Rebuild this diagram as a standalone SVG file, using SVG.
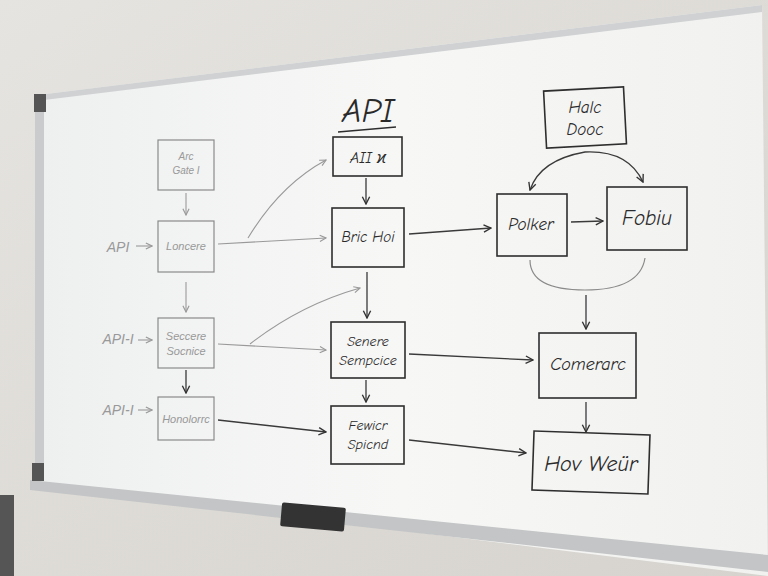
<svg xmlns="http://www.w3.org/2000/svg" width="768" height="576" viewBox="0 0 768 576">
<defs>
<linearGradient id="wall" x1="0" y1="0" x2="1" y2="1"><stop offset="0" stop-color="#e6e4e0"/><stop offset="1" stop-color="#d6d3ce"/></linearGradient>
<linearGradient id="board" x1="0" y1="0" x2="1" y2="0"><stop offset="0" stop-color="#eef0f0"/><stop offset="0.5" stop-color="#f7f7f6"/><stop offset="1" stop-color="#f1f1f0"/></linearGradient>
<marker id="ah" viewBox="0 0 10 10" refX="9" refY="5" markerWidth="7" markerHeight="7" orient="auto-start-reverse"><path d="M1,1 L9,5 L1,9" fill="none" stroke="#333" stroke-width="1.5"/></marker>
<marker id="ahf" viewBox="0 0 10 10" refX="9" refY="5" markerWidth="7" markerHeight="7" orient="auto"><path d="M1,1 L9,5 L1,9" fill="none" stroke="#999" stroke-width="1.5"/></marker>
</defs>
<style>
.b{fill:none;stroke:#2e2e2e;stroke-width:1.6}
.f{fill:none;stroke:#8a8a8a;stroke-width:1.2}
.c{fill:none;stroke:#3a3a3a;stroke-width:1.3;marker-end:url(#ah)}
.cf{fill:none;stroke:#999;stroke-width:1.1;marker-end:url(#ahf)}
.t{font-family:"Comic Neue","Liberation Sans",sans-serif;font-style:italic;fill:#2a2a2a;text-anchor:middle}
.tf{font-family:"Liberation Sans",sans-serif;font-style:italic;fill:#999;text-anchor:middle}
</style>
<rect width="768" height="576" fill="url(#wall)"/>
<polygon points="38,95 762,5 768,576 35,485" fill="url(#board)"/>
<polygon points="38,95 762,5 762,12 44,100" fill="#cfd1d2"/>
<polygon points="35,95 44,95 44,480 35,482" fill="#c9cbcc"/>
<polygon points="30,480 768,555 768,572 30,490" fill="#c3c5c6"/>
<rect x="34" y="94" width="12" height="18" fill="#555"/>
<rect x="32" y="463" width="12" height="18" fill="#555"/>
<rect x="281" y="505" width="64" height="24" rx="2" fill="#333" transform="rotate(5 313 517)"/>
<rect x="0" y="495" width="14" height="81" fill="#555"/>

<g id="title"><text class="t" x="368" y="122" font-size="34" font-style="normal">API</text><path class="b" d="M338,132 L396,127"/></g>

<g id="labels">
<text class="tf" x="118" y="252" font-size="14">API</text>
<text class="tf" x="118" y="344" font-size="14">API-I</text>
<text class="tf" x="118" y="415" font-size="14">API-I</text>
</g>

<g id="n-arc"><rect class="f" x="158" y="140" width="56" height="50"/><text class="tf" x="186" y="160" font-size="10">Arc</text><text class="tf" x="186" y="174" font-size="10">Gate I</text></g>
<g id="n-lon"><rect class="f" x="158" y="221" width="56" height="51"/><text class="tf" x="186" y="250" font-size="11" fill="#777">Loncere</text></g>
<g id="n-sec"><rect class="f" x="158" y="318" width="56" height="50"/><text class="tf" x="186" y="340" font-size="11">Seccere</text><text class="tf" x="186" y="355" font-size="11">Socnice</text></g>
<g id="n-hon"><rect class="f" x="158" y="397" width="56" height="43" stroke="#666"/><text class="tf" x="186" y="423" font-size="11" fill="#555">Honolorrc</text></g>

<g id="n-api"><rect class="b" x="333" y="137" width="69" height="39"/><text class="t" x="368" y="163" font-size="16">AII ϰ</text></g>
<g id="n-bric"><rect class="b" x="332" y="208" width="72" height="59"/><text class="t" x="368" y="242" font-size="15">Bric Hoi</text></g>
<g id="n-sen"><rect class="b" x="331" y="322" width="74" height="56"/><text class="t" x="368" y="346" font-size="14">Senere</text><text class="t" x="368" y="365" font-size="14">Sempcice</text></g>
<g id="n-few"><rect class="b" x="331" y="406" width="73" height="58"/><text class="t" x="368" y="430" font-size="14">Fewicr</text><text class="t" x="368" y="449" font-size="14">Spicnd</text></g>
<g id="n-halc"><rect class="b" x="545" y="89" width="80" height="57" transform="rotate(-3 585 117)"/><text class="t" x="585" y="113" font-size="17">Halc</text><text class="t" x="585" y="135" font-size="17">Dooc</text></g>
<g id="n-pol"><rect class="b" x="497" y="194" width="70" height="62"/><text class="t" x="531" y="230" font-size="17">Polker</text></g>
<g id="n-fob"><rect class="b" x="607" y="187" width="80" height="63"/><text class="t" x="647" y="225" font-size="21">Fobiu</text></g>
<g id="n-com"><rect class="b" x="539" y="333" width="97" height="65"/><text class="t" x="588" y="370" font-size="18">Comerarc</text></g>
<g id="n-hov"><rect class="b" x="533" y="433" width="116" height="59" transform="rotate(2 591 462)"/><text class="t" x="591" y="471" font-size="22">Hov Weür</text></g>

<g id="connectors">
<path class="cf" d="M186,193 L186,215"/>
<path class="cf" d="M186,282 L186,312"/>
<path class="c" d="M186,370 L186,393" stroke="#666"/>
<path class="cf" d="M136,246 L152,246"/>
<path class="cf" d="M138,340 L152,340"/>
<path class="cf" d="M138,410 L152,410"/>
<path class="cf" d="M218,244 L326,238"/>
<path class="cf" d="M248,238 Q280,185 326,160"/>
<path class="cf" d="M218,344 L326,350"/>
<path class="cf" d="M250,344 Q300,305 360,288"/>
<path class="c" d="M218,420 L326,432" stroke="#555"/>
<path class="c" d="M366,178 L366,204"/>
<path class="c" d="M367,272 L367,318"/>
<path class="c" d="M366,380 L366,402"/>
<path class="c" d="M409,234 L491,228"/>
<path class="c" d="M409,354 L533,360"/>
<path class="c" d="M409,440 L526,453"/>
<path class="c" d="M571,222 L603,221"/>
<path class="c" d="M530,190 Q540,160 585,152 Q628,150 643,182" style="marker-start:url(#ah)"/>
<path class="f" d="M530,260 Q530,290 585,290 Q640,290 645,258" stroke="#555"/>
<path class="c" d="M586,295 L586,329"/>
<path class="c" d="M586,402 L586,432"/>
</g>
</svg>
